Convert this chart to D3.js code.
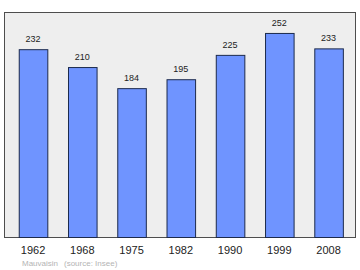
<!DOCTYPE html>
<html>
<head>
<meta charset="utf-8">
<script src="https://cdn.jsdelivr.net/npm/d3@7"></script>
<style>
  body { margin: 0; background: #fff; }
</style>
</head>
<body>
<div id="chart"></div>
<script>
let years = ["1962", "1968", "1975", "1982", "1990", "1999", "2008"];
let population = [232, 210, 184, 195, 225, 252, 233];
let placeName = "Mauvaisin";
let sourceText = "(source: Insee)";

let width = 360, height = 270;
let frame = {left: 4.5, top: 12.5, right: 355.5, bottom: 237.5};

let svg = d3.select("#chart").append("svg")
    .attr("width", width)
    .attr("height", height)
    .style("font-family", "'Liberation Sans', Arial, sans-serif");

// plot background
svg.append("rect")
    .attr("x", frame.left)
    .attr("y", frame.top)
    .attr("width", frame.right - frame.left)
    .attr("height", frame.bottom - frame.top)
    .attr("fill", "#eeeeee")
    .attr("stroke", "#4d4d4d")
    .attr("stroke-width", 1);

let x = d3.scaleBand()
    .domain(years)
    .range([8.4, 353.2])
    .paddingInner(0.42)
    .paddingOuter(0.21);

let y = d3.scaleLinear()
    .domain([0, d3.max(population) * 1.1])
    .range([frame.bottom, frame.top]);

let data = years.map((yr, i) => ({year: yr, value: population[i]}));

svg.append("g").selectAll("rect")
    .data(data)
    .join("rect")
    .attr("x", d => x(d.year) + 0.5)
    .attr("y", d => y(d.value) + 0.5)
    .attr("width", x.bandwidth())
    .attr("height", d => frame.bottom - y(d.value) - 0.5)
    .attr("fill", "#6f94ff")
    .attr("stroke", "#1c2a4c")
    .attr("stroke-width", 1);

// value labels
svg.append("g").selectAll("text")
    .data(data)
    .join("text")
    .attr("x", d => x(d.year) + x.bandwidth() / 2)
    .attr("y", d => y(d.value) - 7)
    .attr("text-anchor", "middle")
    .style("font-size", "9px")
    .attr("fill", "#222")
    .text(d => d.value);

// year labels
svg.append("g").selectAll("text")
    .data(data)
    .join("text")
    .attr("x", d => x(d.year) + x.bandwidth() / 2)
    .attr("y", 254)
    .attr("text-anchor", "middle")
    .style("font-size", "11px")
    .attr("fill", "#222")
    .text(d => d.year);

// footer
svg.append("text")
    .attr("x", 22)
    .attr("y", 266)
    .style("font-size", "8px")
    .attr("fill", "#b4b4b4")
    .text(placeName);

svg.append("text")
    .attr("x", 64)
    .attr("y", 266)
    .style("font-size", "8px")
    .attr("fill", "#b4b4b4")
    .text(sourceText);
</script>
</body>
</html>
